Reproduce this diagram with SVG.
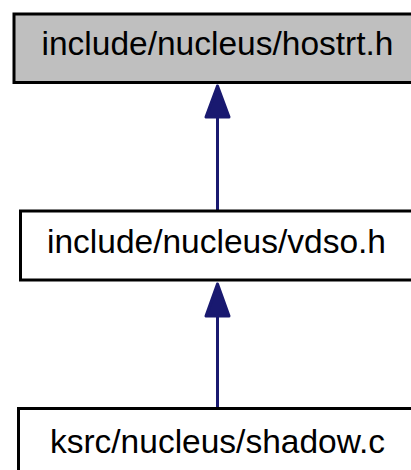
<svg xmlns="http://www.w3.org/2000/svg" width="411" height="470" viewBox="0 0 411 470">
<style>
.box{stroke:#000;stroke-width:3;}
.lbl{font-family:"Liberation Sans",Arial,sans-serif;font-size:33.5px;fill:#000;text-anchor:middle;}
.edge{stroke:#191970;stroke-width:3;fill:none;}
.head{fill:#191970;stroke:#191970;stroke-width:3;stroke-linejoin:round;}
</style>
<rect width="411" height="470" fill="#fff"/>
<g id="edges">
<line class="edge" x1="217.5" y1="116" x2="217.5" y2="210"/>
<polygon class="head" points="217.5,86 206,117 229,117"/>
<line class="edge" x1="217.5" y1="315" x2="217.5" y2="407"/>
<polygon class="head" points="217.5,284 206,316 229,316"/>
</g>
<g id="node1">
<rect class="box" x="14" y="14" width="420" height="68.5" fill="#bfbfbf"/>
<text class="lbl" x="217.5" y="55">include/nucleus/hostrt.h</text>
</g>
<g id="node2">
<rect class="box" x="20.5" y="211" width="420" height="69" fill="#fff"/>
<text class="lbl" x="216.5" y="252.5">include/nucleus/vdso.h</text>
</g>
<g id="node3">
<rect class="box" x="18.5" y="408.5" width="420" height="80" fill="#fff"/>
<text class="lbl" x="217.5" y="452.5">ksrc/nucleus/shadow.c</text>
</g>
</svg>
